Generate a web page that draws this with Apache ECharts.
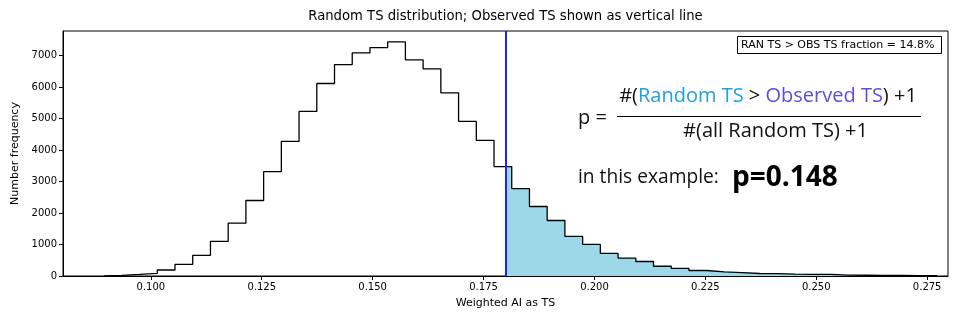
<!DOCTYPE html>
<html>
<head>
<meta charset="utf-8">
<script src="https://cdn.jsdelivr.net/npm/echarts@6/dist/echarts.min.js"></script>
<style>html,body{margin:0;padding:0;background:#fff;}#c{width:960px;height:320px;}</style>
</head>
<body>
<div id="c"></div>
<script>
// ---- data ----
const binStart = 0.08947;
const binWidth = 0.003995;
const counts = [22, 52, 85, 190, 370, 655, 1098, 1679, 2397, 3316,
  4276, 5226, 6113, 6715, 7085, 7254, 7433, 6863, 6578, 5818,
  4910, 4308, 3474, 2777, 2207, 1763, 1257, 1003, 718, 570,
  460, 310, 240, 175, 130, 110, 80, 76, 58, 54,
  50, 28, 24, 21, 18, 14, 10];
const observedTS = 0.18008;
const xTicks = [0.100, 0.125, 0.150, 0.175, 0.200, 0.225, 0.250, 0.275];
const yTicks = [0, 1000, 2000, 3000, 4000, 5000, 6000, 7000];
const xMin = 0.0802, xMax = 0.2797, yMax = 7780;
const titleText = 'Random TS distribution; Observed TS shown as vertical line';
const xName = 'Weighted AI as TS';
const yName = 'Number frequency';
const boxText = 'RAN TS > OBS TS fraction = 14.8%';

// ---- build ----
const edges = counts.map((_, i) => binStart + i * binWidth);
const endEdge = binStart + counts.length * binWidth;
const outline = [[binStart, 0]];
counts.forEach((c, i) => outline.push([edges[i], c]));
outline.push([endEdge, counts[counts.length - 1]]);
outline.push([endEdge, 0]);

const fill = [];
counts.forEach((c, i) => {
  const r = edges[i] + binWidth;
  if (r > observedTS) {
    fill.push([Math.max(edges[i], observedTS), c]);
  }
});
fill.push([endEdge, counts[counts.length - 1]]);

const FONT = 'DejaVu Sans';
const FF = '"Open Sans", "Noto Sans", sans-serif';
const chart = echarts.init(document.getElementById('c'), null, {renderer: 'canvas'});
chart.setOption({
  animation: false,
  backgroundColor: '#fff',
  grid: {left: 63, right: 12, top: 31, bottom: 44, show: true, borderColor: '#000', borderWidth: 1, backgroundColor: 'transparent'},
  xAxis: {
    type: 'value', min: xMin, max: xMax,
    axisLine: {show: true, onZero: false, lineStyle: {color: '#000', width: 1}},
    axisTick: {show: true, inside: false, length: 4, customValues: xTicks, lineStyle: {color: '#000'}},
    axisLabel: {customValues: xTicks, formatter: v => v.toFixed(3), color: '#000', fontFamily: FONT, fontSize: 10, margin: 6},
    splitLine: {show: false}
  },
  yAxis: {
    type: 'value', min: 0, max: yMax,
    axisLine: {show: true, lineStyle: {color: '#000', width: 1}},
    axisTick: {show: true, inside: false, length: 4, customValues: yTicks, lineStyle: {color: '#000'}},
    axisLabel: {customValues: yTicks, formatter: v => String(Math.round(v)), color: '#000', fontFamily: FONT, fontSize: 10, margin: 6},
    splitLine: {show: false}
  },
  series: [
    {
      type: 'line', data: fill, step: 'end', symbol: 'none', z: 1,
      lineStyle: {width: 0}, areaStyle: {color: '#9dd8e9', opacity: 1}
    },
    {
      type: 'line', data: outline, step: 'end', symbol: 'none', z: 2,
      lineStyle: {color: '#000', width: 1.3}
    },
    {
      type: 'line', data: [], z: 3,
      markLine: {
        silent: true, symbol: 'none', animation: false,
        label: {show: false},
        lineStyle: {color: '#2020ff', width: 2, type: 'solid'},
        data: [{xAxis: observedTS}]
      }
    }
  ],
  graphic: [
    {type: 'text', x: 505.5, y: 17, style: {text: titleText, font: '13.2px ' + FONT, fill: '#000', align: 'center', verticalAlign: 'middle'}},
    {type: 'text', x: 505.5, y: 303, style: {text: xName, font: '11px ' + FONT, fill: '#000', align: 'center', verticalAlign: 'middle'}},
    {type: 'text', x: 15, y: 153.5, rotation: Math.PI / 2, style: {text: yName, font: '11px ' + FONT, fill: '#000', align: 'center', verticalAlign: 'middle'}},
    {type: 'rect', shape: {x: 737.5, y: 36.5, width: 204, height: 17}, style: {fill: '#fff', stroke: '#000', lineWidth: 1}, z: 10},
    {type: 'text', x: 741, y: 45.5, z: 11, style: {text: boxText, font: '11px ' + FONT, fill: '#000', align: 'left', verticalAlign: 'middle'}},
    {type: 'text', x: 578, y: 118, z: 11, style: {text: 'p =', font: '20px ' + FF, fill: '#111', align: 'left', verticalAlign: 'middle'}},
    {type: 'text', x: 768, y: 96, z: 11, style: {
      text: '{k|#(}{a|Random TS}{k| > }{b|Observed TS}{k|) +1}',
      align: 'center', verticalAlign: 'middle',
      rich: {
        k: {font: '20px ' + FF, fill: '#111'},
        a: {font: '20px ' + FF, fill: '#1fa0e6'},
        b: {font: '20px ' + FF, fill: '#5a4fe0'}
      }
    }},
    {type: 'line', z: 11, shape: {x1: 617, y1: 116.5, x2: 921, y2: 116.5}, style: {stroke: '#000', lineWidth: 1}},
    {type: 'text', x: 775.5, y: 131, z: 11, style: {text: '#(all Random TS) +1', font: '20px ' + FF, fill: '#111', align: 'center', verticalAlign: 'middle'}},
    {type: 'text', x: 578, y: 178, z: 11, style: {text: 'in this example:', font: '19.2px ' + FF, fill: '#111', align: 'left', verticalAlign: 'middle'}},
    {type: 'text', x: 732, y: 178, z: 11, style: {text: 'p=0.148', font: 'bold 28px ' + FF, fill: '#000', align: 'left', verticalAlign: 'middle'}}
  ]
});
</script>
</body>
</html>
